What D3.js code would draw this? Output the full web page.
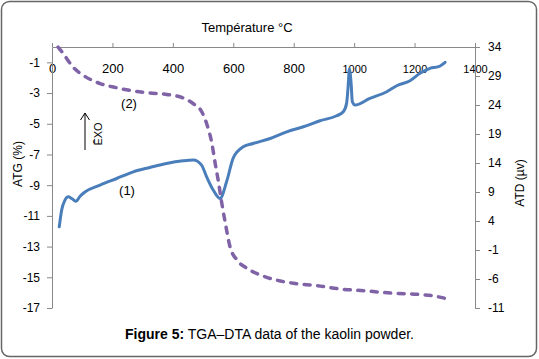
<!DOCTYPE html>
<html><head><meta charset="utf-8">
<script src="https://cdn.jsdelivr.net/npm/d3@7"></script>
<style>body{margin:0;background:#fff}svg{display:block;font-family:"Liberation Sans",Arial,sans-serif}</style>
</head><body>
<svg id="c" width="539" height="359"></svg>
<script>
// TGA (ATG %, left axis) – dashed purple
const tgaTemp = [20,36,70,103,159,215,268,324,380,434,467,496,512,529,540,550,562,573,589,612,644,688,732,799,876,953,1042,1129,1207,1261,1301];
const tgaVal  = [0,-0.4,-1.32,-1.84,-2.38,-2.66,-2.86,-2.99,-3.09,-3.32,-3.68,-4.23,-5.0,-6.27,-7.57,-8.68,-10.18,-11.4,-13.0,-13.87,-14.4,-14.84,-15.13,-15.39,-15.54,-15.76,-15.89,-16.04,-16.1,-16.21,-16.37];
// DTA (ATD µv, right axis) – solid blue
const dtaTemp = [24,32,43,54,65,79,93,109,159,214,269,324,379,434,468,495,512,534,556,578,600,633,666,722,777,832,887,942,964,975,981,984,990,994,1003,1052,1108,1141,1185,1218,1251,1279,1301];
const dtaVal  = [3.0,5.9,7.6,8.16,7.88,7.4,8.28,9.0,10.18,11.33,12.48,13.23,13.92,14.37,14.5,13.63,11.6,9.3,7.88,10.8,14.9,16.8,17.37,18.23,19.38,20.25,21.28,22.14,22.83,24.28,27.9,30.2,27.73,24.56,23.99,25.14,26.29,27.32,28.18,29.46,30.32,30.6,31.36];
const xTicks = [0,200,400,600,800,1000,1200,1400];
const leftTicks = [-17,-15,-13,-11,-9,-7,-5,-3,-1];
const rightTicks = [-11,-6,-1,4,9,14,19,24,29,34];

const svg = d3.select("#c");
const L = 52, R = 475, T = 47, B = 308;
const x = d3.scaleLinear().domain([0,1400]).range([L,R]);
const yL = d3.scaleLinear().domain([-17,0]).range([B,T]);
const yR = d3.scaleLinear().domain([-11,34]).range([B,T]);
const fmt = d => String(d);

svg.append("rect").attr("x",1.5).attr("y",1.5).attr("width",535).attr("height",355)
  .attr("rx",8).attr("fill","none").attr("stroke","#666").attr("stroke-width",1.5);

// axes
const gx = svg.append("g").attr("transform",`translate(0,${T})`)
  .call(d3.axisTop(x).tickValues(xTicks).tickFormat(fmt).tickSize(4).tickSizeOuter(0));
gx.selectAll("text").attr("y",22).attr("dy","0.32em")
  .style("font-size",d=>d>=1000?"11px":"13px");
const gl = svg.append("g").attr("transform",`translate(${L},0)`)
  .call(d3.axisLeft(yL).tickValues(leftTicks).tickFormat(fmt).tickSize(5).tickSizeOuter(0));
gl.selectAll("text").attr("x",-12).style("font-size","12px");
const gr = svg.append("g").attr("transform",`translate(${R},0)`)
  .call(d3.axisRight(yR).tickValues(rightTicks).tickFormat(fmt).tickSize(5).tickSizeOuter(0));
gr.selectAll("text").attr("x",13).style("font-size","12px");
svg.selectAll(".domain, .tick line").attr("stroke","#888");
svg.selectAll(".tick text").attr("fill","#000").style("font-family","'Liberation Sans',Arial,sans-serif");

// curves
const tga = tgaTemp.map((t,i)=>[t,tgaVal[i]]);
const dta = dtaTemp.map((t,i)=>[t,dtaVal[i]]);
svg.append("path").datum(dta).attr("fill","none").attr("stroke","#4a7ebb").attr("stroke-width",3)
  .attr("stroke-linejoin","round").attr("stroke-linecap","round")
  .attr("d",d3.line().x(d=>x(d[0])).y(d=>yR(d[1])).curve(d3.curveMonotoneX));
svg.append("path").datum(tga).attr("fill","none").attr("stroke","#7f63a6").attr("stroke-width",3.5)
  .attr("stroke-dasharray","6,7.5").attr("stroke-linecap","round")
  .attr("d",d3.line().x(d=>x(d[0])).y(d=>yL(d[1])).curve(d3.curveMonotoneX));

// texts
svg.append("text").attr("x",247).attr("y",32).attr("text-anchor","middle").style("font-size","13px").text("Température °C");
svg.append("text").attr("transform","translate(22,164) rotate(-90)").attr("text-anchor","middle").style("font-size","12px").text("ATG (%)");
svg.append("text").attr("transform","translate(524,183) rotate(-90)").attr("text-anchor","middle").style("font-size","12px").text("ATD (µv)");
svg.append("text").attr("x",129).attr("y",108).attr("text-anchor","middle").style("font-size","13px").text("(2)");
svg.append("text").attr("x",127).attr("y",195).attr("text-anchor","middle").style("font-size","13px").text("(1)");
// EXO arrow
svg.append("path").attr("d","M85,150 L85,113 M80.5,120 L85,113 L89.5,120").attr("fill","none").attr("stroke","#000").attr("stroke-width",1);
svg.append("text").attr("transform","translate(102,134) rotate(-90)").attr("text-anchor","middle").style("font-size","11px").text("ĒXO");
// caption
const cap = svg.append("text").attr("x",125).attr("y",339).style("font-size","14px");
cap.append("tspan").style("font-weight","bold").text("Figure 5:");
cap.append("tspan").text(" TGA–DTA data of the kaolin powder.");
</script>
</body></html>
